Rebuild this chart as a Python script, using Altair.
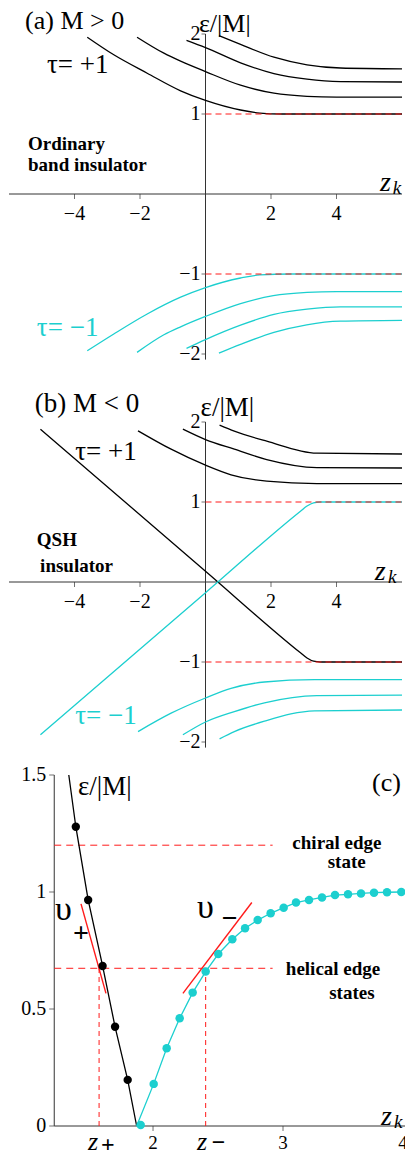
import altair as alt
import pandas as pd

# ---------------- panel (a): M > 0 ----------------
A_POS_Z = [
    [-3.61, -2.8, -1.78, -0.76, 0.0, 1.07, 1.66, 2.3, 6.0],
    [-2.09, -1.27, -0.76, 0.0, 1.07, 2.09, 3.1, 4.0, 6.0],
    [-0.58, 0.0, 1.07, 2.09, 3.1, 4.12, 6.0],
    [0.41, 1.07, 2.09, 3.1, 4.12, 6.0],
]
A_POS_E = [
    [1.96, 1.74, 1.51, 1.29, 1.17, 1.05, 1.012, 1.0, 1.0],
    [1.96, 1.76, 1.66, 1.53, 1.36, 1.26, 1.22, 1.21, 1.21],
    [1.92, 1.83, 1.64, 1.505, 1.435, 1.405, 1.40],
    [1.98, 1.87, 1.71, 1.615, 1.575, 1.565],
]
A_NEG_Z = [
    [-3.61, -2.8, -1.78, -0.76, 0.0, 1.07, 1.66, 2.6, 6.0],
    [-2.09, -1.27, -0.76, 0.0, 1.07, 2.07, 3.1, 4.0, 6.0],
    [-0.58, 0.0, 1.07, 2.09, 3.1, 4.12, 6.0],
    [0.41, 1.07, 2.09, 3.09, 4.12, 6.0],
]
A_NEG_E = [
    [-1.96, -1.75, -1.50, -1.29, -1.17, -1.05, -1.012, -1.0, -1.0],
    [-1.98, -1.76, -1.66, -1.53, -1.37, -1.27, -1.23, -1.22, -1.22],
    [-1.93, -1.82, -1.64, -1.505, -1.44, -1.41, -1.41],
    [-1.99, -1.88, -1.73, -1.635, -1.59, -1.58],
]

# ---------------- panel (b): M < 0 ----------------
B_POS_Z = [
    [-5.04, 0.0, 2.9, 3.1, 3.3, 3.5, 6.0],
    [-2.06, -1.05, 0.0, 0.78, 1.87, 3.4, 6.0],
    [-0.69, 0.0, 0.88, 1.87, 3.4, 6.0],
    [0.43, 0.88, 1.87, 3.4, 6.0],
]
B_POS_E = [
    [1.91, 0.135, -0.885, -0.95, -0.99, -1.0, -1.0],
    [1.89, 1.66, 1.46, 1.34, 1.26, 1.23, 1.23],
    [1.91, 1.78, 1.66, 1.53, 1.43, 1.425],
    [1.96, 1.885, 1.76, 1.61, 1.60],
]
B_NEG_Z = [
    [-5.04, 0.0, 2.9, 3.1, 3.3, 3.5, 6.0],
    [-2.06, -1.05, 0.0, 0.78, 1.8, 3.33, 6.0],
    [-0.69, 0.0, 0.88, 1.8, 3.4, 6.0],
    [0.43, 0.88, 1.8, 3.33, 6.0],
]
B_NEG_E = [
    [-1.91, -0.135, 0.885, 0.95, 0.99, 1.0, 1.0],
    [-1.87, -1.64, -1.45, -1.33, -1.25, -1.22, -1.22],
    [-1.91, -1.75, -1.62, -1.51, -1.42, -1.415],
    [-1.96, -1.87, -1.74, -1.61, -1.60],
]

AB_X_TICKS = [-4, -2, 2, 4]
AB_Y_TICKS = [-2, -1, 1, 2]

# ---------------- panel (c): zoom of edge states ----------------
C_BLACK_LINE_Z = [1.352, 1.406, 1.501, 1.612, 1.708, 1.805, 1.874]
C_BLACK_LINE_E = [1.5, 1.279, 0.966, 0.684, 0.424, 0.197, 0.0]
C_BLACK_DOT_Z = [1.406, 1.501, 1.612, 1.708, 1.805]
C_BLACK_DOT_E = [1.279, 0.966, 0.684, 0.424, 0.197]
C_CYAN_DOT_Z = [1.905, 2.005, 2.105, 2.205, 2.305, 2.405, 2.502, 2.61, 2.708, 2.805,
                2.905, 3.005, 3.10, 3.20, 3.30, 3.40, 3.50, 3.60, 3.70, 3.80, 3.91]
C_CYAN_DOT_E = [0.004, 0.18, 0.332, 0.46, 0.57, 0.66, 0.735, 0.798, 0.845, 0.88,
                0.909, 0.933, 0.955, 0.966, 0.977, 0.987, 0.99, 0.994, 0.997, 0.999, 1.0]
C_CYAN_LINE_START = (1.874, 0.0)
C_TANGENT_PLUS = [(1.446, 0.949), (1.638, 0.567)]
C_TANGENT_MINUS = [(2.23, 0.567), (2.76, 0.955)]
C_CHIRAL_E = 1.20
C_HELICAL_E = 0.674
C_Z_PLUS = 1.585
C_Z_MINUS = 2.405
C_X_TICKS = [2, 3, 4]
C_Y_TICKS = [0, 0.5, 1, 1.5]

BLACK = "#000000"
AXIS = "#333333"
CYAN = "#1ccfcf"
RED = "#ff1a1a"
SERIF = "Liberation Serif"


def fmt(v):
    s = ("%g" % v)
    return s.replace("-", "\u2212")


def curves_df(zs, es):
    rows = []
    for i, (zz, ee) in enumerate(zip(zs, es)):
        for j, (z, e) in enumerate(zip(zz, ee)):
            rows.append({"z": z, "e": e, "c": i, "o": j})
    return pd.DataFrame(rows)


def text_layer(X, Y, z, e, s, size, color="black", bold=False, italic=False, align="left"):
    df = pd.DataFrame({"z": [z], "e": [e], "t": [s]})
    return alt.Chart(df).mark_text(
        align=align, baseline="middle", font=SERIF, fontSize=size,
        fontWeight="bold" if bold else "normal",
        fontStyle="italic" if italic else "normal", color=color,
    ).encode(x=X, y=Y, text="t:N")


def rule_layer(X, Y, z, z2, e, e2, color, width=1.0, dash=None):
    df = pd.DataFrame({"z": [z], "z2": [z2], "e": [e], "e2": [e2]})
    kw = dict(color=color, strokeWidth=width)
    if dash:
        kw["strokeDash"] = dash
    return alt.Chart(df).mark_rule(**kw).encode(x=X, x2="z2:Q", y=Y, y2="e2:Q")


def x_axis_layers(X, Y, ticks, e0, dy, last_dx=0, size=20):
    df = pd.DataFrame({"z": ticks, "e": [e0] * len(ticks), "t": [fmt(v) for v in ticks],
                       "last": [False] * (len(ticks) - 1) + [True]})
    tick = alt.Chart(df).mark_tick(orient="vertical", size=5, thickness=1, yOffset=2.5,
                                   color=AXIS).encode(x=X, y=Y)
    out = [tick]
    for is_last, dx in ((False, 0), (True, last_dx)):
        out.append(alt.Chart(df).transform_filter(alt.datum.last == is_last).mark_text(
            font=SERIF, fontSize=size, baseline="middle", align="center",
            dy=dy, dx=dx, color="black").encode(x=X, y=Y, text="t:N"))
    return out


def y_axis_layers(X, Y, ticks, z0, dx, tsize=4):
    df = pd.DataFrame({"z": [z0] * len(ticks), "e": ticks, "t": [fmt(v) for v in ticks]})
    tick = alt.Chart(df).mark_tick(orient="horizontal", size=tsize, thickness=1,
                                   xOffset=-tsize / 2, color=AXIS).encode(x=X, y=Y)
    lab = alt.Chart(df).mark_text(font=SERIF, fontSize=20, baseline="middle", align="right",
                                  dx=dx, color="black").encode(x=X, y=Y, text="t:N")
    return [tick, lab]


def band_panel(pos_z, pos_e, neg_z, neg_e, ydom, height, labels):
    width = 393
    xdom = [-6, 6]
    X = alt.X("z:Q", scale=alt.Scale(domain=xdom, nice=False, zero=False), axis=None)
    Y = alt.Y("e:Q", scale=alt.Scale(domain=ydom, nice=False, zero=False), axis=None)
    layers = []
    layers.append(rule_layer(X, Y, -6, 6, 0, 0, AXIS, 1.0))
    layers.append(rule_layer(X, Y, 0, 0, -2.07, 2.0, AXIS, 1.0))
    layers += x_axis_layers(X, Y, AB_X_TICKS, 0, 20)
    layers += y_axis_layers(X, Y, AB_Y_TICKS, 0, -5)
    layers.append(alt.Chart(curves_df(pos_z, pos_e)).mark_line(
        color=BLACK, strokeWidth=1.3, interpolate="monotone").encode(
        x=X, y=Y, detail="c:N", order="o:Q"))
    layers.append(alt.Chart(curves_df(neg_z, neg_e)).mark_line(
        color=CYAN, strokeWidth=1.3, interpolate="monotone").encode(
        x=X, y=Y, detail="c:N", order="o:Q"))
    layers.append(rule_layer(X, Y, 0, 6, 1, 1, RED, 1.0, [6, 4]))
    layers.append(rule_layer(X, Y, 0, 6, -1, -1, RED, 1.0, [6, 4]))
    for lab in labels:
        layers.append(text_layer(X, Y, *lab[:4], **lab[4]))
    return alt.layer(*layers).properties(width=width, height=height)


labels_a = [
    (-5.51, 2.16, "(a) M > 0", 26, {}),
    (-4.84, 1.61, "τ= +1", 27, {}),
    (-0.2, 2.13, "ε/|M|", 26, {}),
    (-5.42, 0.625, "Ordinary", 19, {"bold": True}),
    (-5.42, 0.36, "band insulator", 19, {"bold": True}),
    (5.33, 0.14, "z", 28, {"italic": True}),
    (5.72, 0.075, "k", 19, {"italic": True}),
    (-5.15, -1.675, "τ= −1", 27, {"color": CYAN}),
]
labels_b = [
    (-5.21, 2.225, "(b) M < 0", 27, {}),
    (-3.98, 1.625, "τ= +1", 27, {}),
    (-0.15, 2.175, "ε/|M|", 27, {}),
    (-5.15, 0.525, "QSH", 19, {"bold": True}),
    (-5.05, 0.2, "insulator", 19, {"bold": True}),
    (5.17, 0.125, "z", 28, {"italic": True}),
    (5.57, 0.06, "k", 19, {"italic": True}),
    (-3.98, -1.675, "τ= −1", 27, {"color": CYAN}),
]

panel_a = band_panel(A_POS_Z, A_POS_E, A_NEG_Z, A_NEG_E, [-2.25, 2.325], 366, labels_a)
panel_b = band_panel(B_POS_Z, B_POS_E, B_NEG_Z, B_NEG_E, [-2.1125, 2.3], 353, labels_b)

# ---------------- panel (c) ----------------
c_width, c_height = 404, 351
c_xdom = [0.892, 4.0]
c_ydom = [0.0, 1.5]
c_axis_z = 1.24
CX = alt.X("z:Q", scale=alt.Scale(domain=c_xdom, nice=False, zero=False), axis=None)
CY = alt.Y("e:Q", scale=alt.Scale(domain=c_ydom, nice=False, zero=False), axis=None)

c_layers = []
c_layers.append(rule_layer(CX, CY, c_axis_z, 4.0, 0, 0, AXIS, 1.0))
c_layers.append(rule_layer(CX, CY, c_axis_z, c_axis_z, 0, 1.5, AXIS, 1.0))
c_layers += x_axis_layers(CX, CY, C_X_TICKS, 0, 17, last_dx=-10, size=19)
c_layers += y_axis_layers(CX, CY, C_Y_TICKS, c_axis_z, -8, tsize=5)
# dashed guides
c_layers.append(rule_layer(CX, CY, c_axis_z, 2.92, C_CHIRAL_E, C_CHIRAL_E, RED, 1.0, [7, 5]))
c_layers.append(rule_layer(CX, CY, c_axis_z, 2.92, C_HELICAL_E, C_HELICAL_E, RED, 1.0, [7, 5]))
c_layers.append(rule_layer(CX, CY, C_Z_PLUS, C_Z_PLUS, 0, C_HELICAL_E, RED, 1.0, [5, 4]))
c_layers.append(rule_layer(CX, CY, C_Z_MINUS, C_Z_MINUS, 0, C_HELICAL_E, RED, 1.0, [5, 4]))
# lines
black_df = pd.DataFrame({"z": C_BLACK_LINE_Z, "e": C_BLACK_LINE_E})
cyan_line_df = pd.DataFrame({"z": [C_CYAN_LINE_START[0]] + C_CYAN_DOT_Z[1:],
                             "e": [C_CYAN_LINE_START[1]] + C_CYAN_DOT_E[1:]})
c_layers.append(alt.Chart(black_df).mark_line(color=BLACK, strokeWidth=1.3).encode(x=CX, y=CY))
c_layers.append(alt.Chart(cyan_line_df).mark_line(color=CYAN, strokeWidth=1.3).encode(x=CX, y=CY))
# tangents
for (p0, p1) in (C_TANGENT_PLUS, C_TANGENT_MINUS):
    c_layers.append(rule_layer(CX, CY, p0[0], p1[0], p0[1], p1[1], RED, 1.4))
# dots
c_layers.append(alt.Chart(pd.DataFrame({"z": C_BLACK_DOT_Z, "e": C_BLACK_DOT_E}))
                .mark_circle(color="black", size=70, opacity=1).encode(x=CX, y=CY))
c_layers.append(alt.Chart(pd.DataFrame({"z": C_CYAN_DOT_Z, "e": C_CYAN_DOT_E}))
                .mark_circle(color=CYAN, size=72, opacity=1).encode(x=CX, y=CY))
labels_c = [
    (1.423, 1.449, "ε/|M|", 27, {}),
    (3.685, 1.466, "(c)", 26, {}),
    (3.415, 1.21, "chiral edge", 19, {"bold": True, "align": "center"}),
    (3.49, 1.128, "state", 19, {"bold": True, "align": "center"}),
    (3.385, 0.671, "helical edge", 19, {"bold": True, "align": "center"}),
    (3.53, 0.568, "states", 19, {"bold": True, "align": "center"}),
    (1.246, 0.925, "υ", 34, {}),
    (1.445, 0.82, "+", 28, {"bold": True, "align": "center"}),
    (2.338, 0.93, "υ", 34, {}),
    (2.59, 0.885, "−", 28, {"bold": True, "align": "center"}),
    (3.754, 0.04, "z", 28, {"italic": True}),
    (3.854, 0.015, "k", 19, {"italic": True}),
    (1.50, -0.068, "z", 26, {"italic": True}),
    (1.652, -0.082, "+", 24, {"bold": True, "align": "center"}),
    (2.338, -0.068, "z", 26, {"italic": True}),
    (2.505, -0.072, "−", 24, {"bold": True, "align": "center"}),
]
for lab in labels_c:
    c_layers.append(text_layer(CX, CY, *lab[:4], **lab[4]))
panel_c = alt.layer(*c_layers).properties(width=c_width, height=c_height)

chart = alt.vconcat(panel_a, panel_b, panel_c, spacing=24, bounds="flush").properties(
    autosize=alt.AutoSizeParams(type="none"),
    padding={"left": 1, "top": 0, "right": 396, "bottom": 1147},
).configure_view(stroke=None)

chart.save("out.html", embed_options={"renderer": "svg", "actions": False})
